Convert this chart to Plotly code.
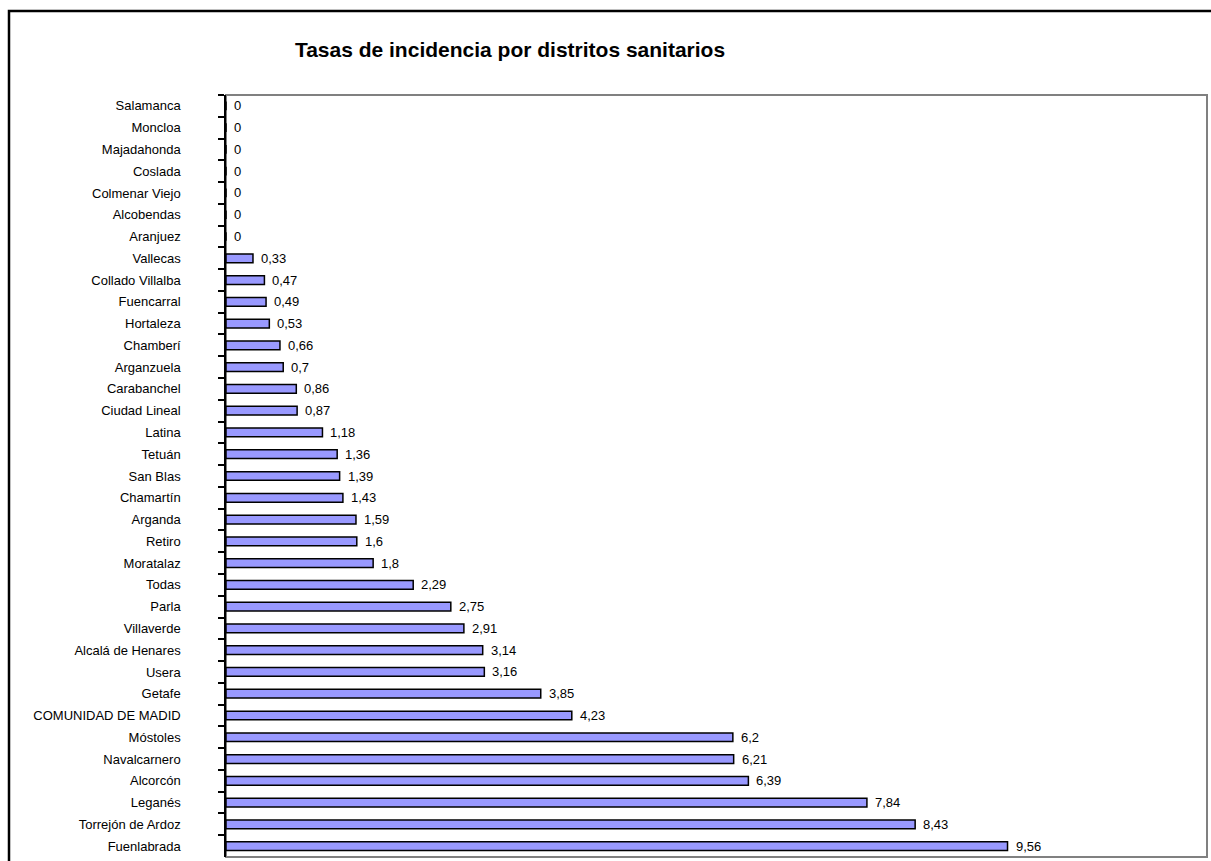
import plotly.graph_objects as go

districts = [
    "Salamanca", "Moncloa", "Majadahonda", "Coslada", "Colmenar Viejo",
    "Alcobendas", "Aranjuez", "Vallecas", "Collado Villalba", "Fuencarral",
    "Hortaleza", "Chamberí", "Arganzuela", "Carabanchel", "Ciudad Lineal",
    "Latina", "Tetuán", "San Blas", "Chamartín", "Arganda", "Retiro",
    "Moratalaz", "Todas", "Parla", "Villaverde", "Alcalá de Henares",
    "Usera", "Getafe", "COMUNIDAD DE MADID", "Móstoles", "Navalcarnero",
    "Alcorcón", "Leganés", "Torrejón de Ardoz", "Fuenlabrada",
]
rates = [
    0, 0, 0, 0, 0, 0, 0, 0.33, 0.47, 0.49, 0.53, 0.66, 0.7, 0.86, 0.87,
    1.18, 1.36, 1.39, 1.43, 1.59, 1.6, 1.8, 2.29, 2.75, 2.91, 3.14, 3.16,
    3.85, 4.23, 6.2, 6.21, 6.39, 7.84, 8.43, 9.56,
]

FONT = "Arial, 'Liberation Sans', sans-serif"

W, H = 1211, 861
L, T, R, B = 226, 95, 4, 4     # margenes del área de trazado
PW, PH = W - L - R, H - T - B

# etiquetas con coma decimal
labels = [f"{v:g}".replace(".", ",") for v in rates]

fig = go.Figure(go.Bar(
    x=rates,
    y=districts,
    orientation="h",
    marker=dict(color="#9999FF", line=dict(color="black", width=1.5)),
    hoverinfo="x+y",
))

for v, d, t in zip(rates, districts, labels):
    fig.add_annotation(
        x=v, y=d, text=t, showarrow=False,
        xanchor="left", yanchor="middle", xshift=6,
        font=dict(family=FONT, size=13, color="black"),
    )

fig.update_layout(
    width=W,
    height=H,
    margin=dict(l=L, r=R, t=T, b=B),
    paper_bgcolor="white",
    plot_bgcolor="rgba(0,0,0,0)",
    bargap=0.6,
    showlegend=False,
    font=dict(family=FONT, size=13, color="black"),
    title=dict(
        text="<b>Tasas de incidencia por distritos sanitarios</b>",
        x=510 / W, xanchor="center", xref="container",
        y=1 - 50 / H, yanchor="middle", yref="container",
        font=dict(family=FONT, size=21, color="black"),
    ),
    xaxis=dict(range=[0, 12], visible=False, fixedrange=True),
    yaxis=dict(
        autorange="reversed",
        showline=True, linecolor="black", linewidth=1.5,
        ticks="outside", tickson="boundaries", ticklen=6,
        tickcolor="black", tickwidth=1.5,
        ticklabelstandoff=41,
        showgrid=False, zeroline=False,
        tickfont=dict(family=FONT, size=13, color="black"),
    ),
    shapes=[
        # borde gris del área de trazado
        dict(type="rect", xref="paper", yref="paper", x0=0, x1=1, y0=0, y1=1,
             line=dict(color="#808080", width=2), layer="below"),
        # marco exterior negro (sale por la derecha y por abajo)
        dict(type="rect", xref="paper", yref="paper",
             x0=(9 - L) / PW, x1=1.03, y0=-0.03, y1=1 + (T - 11) / PH,
             line=dict(color="black", width=2.5)),
    ],
)

# sin margen en la página para que la figura ocupe la ventana entera
fig.write_html(
    "out.html",
    config={"displayModeBar": False},
    post_script="document.body.style.margin='0';document.body.style.overflow='hidden';",
)
